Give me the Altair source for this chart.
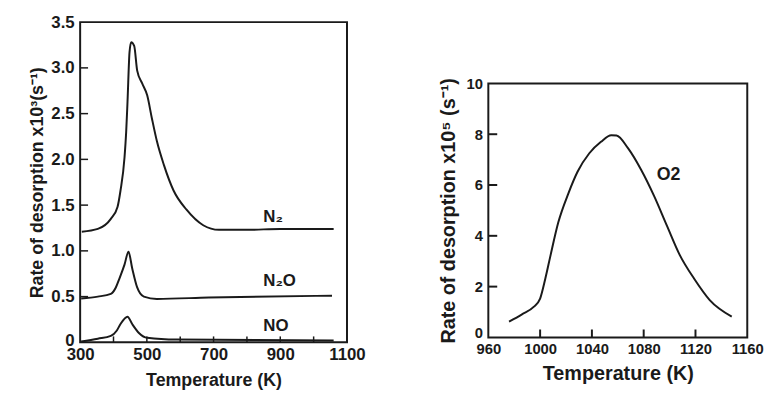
import altair as alt
import pandas as pd

FONT = "Liberation Sans"

# ---- left panel data ----
n2_T = [305, 353, 392, 412, 421, 433, 438, 442, 448, 453, 462, 471, 486, 501, 515, 530, 551, 580, 619, 669, 716, 800, 900, 1060]
n2_v = [1.21, 1.24, 1.35, 1.48, 1.66, 2.02, 2.30, 2.63, 3.17, 3.28, 3.24, 2.97, 2.83, 2.70, 2.45, 2.20, 1.94, 1.66, 1.45, 1.28, 1.23, 1.23, 1.24, 1.24]
n2o_T = [303, 353, 392, 407, 418, 433, 445, 456, 471, 491, 530, 686, 1055]
n2o_v = [0.48, 0.50, 0.53, 0.60, 0.70, 0.85, 0.99, 0.81, 0.60, 0.50, 0.475, 0.49, 0.51]
no_T = [303, 353, 392, 410, 421, 442, 456, 477, 501, 589, 1060]
no_v = [0.01, 0.04, 0.07, 0.13, 0.20, 0.28, 0.20, 0.10, 0.05, 0.03, 0.02]

left_labels = ["N\u2082", "N\u2082O", "NO"]
left_label_T = [849, 849, 849]
left_label_v = [1.37, 0.67, 0.18]

left_x_labels = [300, 500, 700, 900, 1100]
left_x_ticks = [400, 500, 600, 700, 800, 900, 1000]
left_y_labels = [0, 0.5, 1.0, 1.5, 2.0, 2.5, 3.0, 3.5]
left_y_ticks = [0.5, 1.0, 1.5, 2.0, 2.5, 3.0]

# ---- right panel data ----
o2_T = [976, 986, 995, 1000, 1004, 1008, 1014, 1022, 1029, 1038, 1047, 1055, 1059, 1068, 1078, 1088, 1098, 1108, 1119, 1131, 1148]
o2_v = [0.62, 0.91, 1.20, 1.53, 2.31, 3.22, 4.52, 5.69, 6.53, 7.25, 7.70, 7.96, 7.95, 7.44, 6.60, 5.57, 4.39, 3.23, 2.31, 1.47, 0.82]
right_label = ["O2"]
right_label_T = [1090]
right_label_v = [6.39]
right_x_labels = [960, 1000, 1040, 1080, 1120, 1160]
right_x_ticks = [1000, 1040, 1080, 1120]
right_y_labels = [0, 2, 4, 6, 8, 10]
right_y_ticks = [2, 4, 6, 8]

LW, LH = 270, 324
RW, RH = 262, 257
INK = "#1a1a1a"
FRAME = alt.ViewBackground(stroke=INK, strokeWidth=2)


def axis(values, label_size, title_size, label_pad, title_pad, fmt=None, expr=None, zero_shift=0):
    kw = dict(values=values, ticks=False, tickSize=0, domain=False, grid=False,
              labelFont=FONT, labelFontSize=label_size, labelFontWeight="bold", labelColor=INK,
              labelPadding=label_pad, labelFlush=False,
              titleFont=FONT, titleFontSize=title_size, titleFontWeight="bold", titleColor=INK,
              titlePadding=title_pad)
    if fmt:
        kw["format"] = fmt
    if expr:
        kw["labelExpr"] = expr
    if zero_shift:
        kw["labelOffset"] = {"condition": {"test": "datum.value == 0", "value": zero_shift}, "value": 0}
    return alt.Axis(**kw)


left_df = pd.concat([
    pd.DataFrame({"T": n2_T, "v": n2_v, "s": "N2"}),
    pd.DataFrame({"T": n2o_T, "v": n2o_v, "s": "N2O"}),
    pd.DataFrame({"T": no_T, "v": no_v, "s": "NO"}),
])

lx = alt.Scale(domain=[300, 1100], nice=False, zero=False)
ly = alt.Scale(domain=[0, 3.5], nice=False)
lxa = axis(left_x_labels, 17, 18, 4, 10, fmt="d")
lya = axis(left_y_labels, 17, 18, 6, 4, expr="datum.value == 0 ? '0' : format(datum.value, '.1f')",
           zero_shift=-2)
LXT = "Temperature (K)"
LYT = "Rate of desorption x10\u00b3(s\u207b\u00b9)"

left_lines = alt.Chart(left_df).mark_line(color=INK, strokeWidth=2, interpolate="monotone").encode(
    x=alt.X("T:Q", scale=lx, title=LXT, axis=lxa),
    y=alt.Y("v:Q", scale=ly, title=LYT, axis=lya),
    detail="s:N",
)
left_xt = alt.Chart(pd.DataFrame({"T": left_x_ticks})).mark_rule(color=INK, strokeWidth=1.5).encode(
    x=alt.X("T:Q", scale=lx, title=LXT, axis=lxa), y=alt.value(LH), y2=alt.value(LH - 6))
left_yt = alt.Chart(pd.DataFrame({"v": left_y_ticks})).mark_rule(color=INK, strokeWidth=1.5).encode(
    y=alt.Y("v:Q", scale=ly, title=LYT, axis=lya), x=alt.value(0), x2=alt.value(8))
left_txt = alt.Chart(pd.DataFrame({"T": left_label_T, "v": left_label_v, "t": left_labels})).mark_text(
    align="left", baseline="middle", font=FONT, fontSize=17, fontWeight="bold", color=INK).encode(
    x=alt.X("T:Q", scale=lx, title=LXT, axis=lxa), y=alt.Y("v:Q", scale=ly, title=LYT, axis=lya), text="t:N")

left = alt.layer(left_lines, left_xt, left_yt, left_txt).properties(width=LW, height=LH, view=FRAME)

rx = alt.Scale(domain=[960, 1160], nice=False, zero=False)
ry = alt.Scale(domain=[0, 10], nice=False)
rxa = axis(right_x_labels, 15, 20, 4, 8, fmt="d")
rya = axis(right_y_labels, 15, 20, 6, 8, fmt="d", zero_shift=-5)
RXT = "Temperature (K)"
RYT = "Rate of desorption x10\u2075 (s\u207b\u00b9)"

right_lines = alt.Chart(pd.DataFrame({"T": o2_T, "v": o2_v})).mark_line(
    color=INK, strokeWidth=2, interpolate="monotone").encode(
    x=alt.X("T:Q", scale=rx, title=RXT, axis=rxa),
    y=alt.Y("v:Q", scale=ry, title=RYT, axis=rya),
)
right_xt = alt.Chart(pd.DataFrame({"T": right_x_ticks})).mark_rule(color=INK, strokeWidth=2).encode(
    x=alt.X("T:Q", scale=rx, title=RXT, axis=rxa), y=alt.value(RH), y2=alt.value(RH - 8))
right_yt = alt.Chart(pd.DataFrame({"v": right_y_ticks})).mark_rule(color=INK, strokeWidth=2).encode(
    y=alt.Y("v:Q", scale=ry, title=RYT, axis=rya), x=alt.value(0), x2=alt.value(9))
right_txt = alt.Chart(pd.DataFrame({"T": right_label_T, "v": right_label_v, "t": right_label})).mark_text(
    align="left", baseline="middle", font=FONT, fontSize=18, fontWeight="bold", color=INK).encode(
    x=alt.X("T:Q", scale=rx, title=RXT, axis=rxa), y=alt.Y("v:Q", scale=ry, title=RYT, axis=rya), text="t:N")

right = alt.layer(right_lines, right_xt, right_yt, right_txt).properties(width=RW, height=RH, view=FRAME)

# invisible spacer that lowers the right panel
spacer = alt.Chart(pd.DataFrame({"a": [0]})).mark_point(opacity=0).encode(
    x=alt.X("a:Q", axis=None), y=alt.Y("a:Q", axis=None)
).properties(width=RW, height=53, view=alt.ViewBackground(stroke="transparent"))

right_col = alt.vconcat(spacer, right, spacing=0)

chart = alt.hconcat(left, right_col, spacing=71).properties(
    padding={"left": 20, "top": 2, "right": 5, "bottom": 5}
).configure_view(stroke="transparent").configure(background="white")

chart.save("out.html", embed_options={"renderer": "svg", "actions": False})
